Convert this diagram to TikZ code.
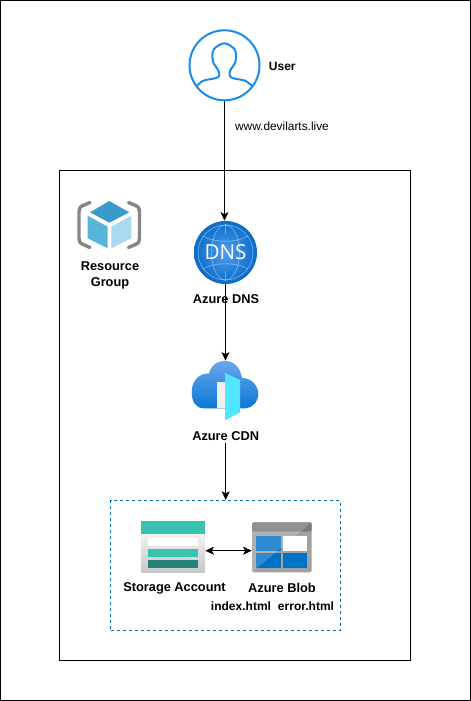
\documentclass[tikz,border=0pt]{standalone}
\usepackage{fontspec}
\setmainfont{Liberation Sans}
\newfontfamily\dnsfont{Open Sans}
\usetikzlibrary{arrows.meta,calc}
\definecolor{userblue}{HTML}{1A8CEB}
\definecolor{boxblue}{HTML}{006EAF}
\definecolor{tealA}{HTML}{37C2B1}
\definecolor{tealB}{HTML}{258277}
\definecolor{blobA}{HTML}{0072C6}
\definecolor{cubeA}{HTML}{3A9BC8}
\definecolor{cubeB}{HTML}{59B4D9}
\definecolor{cubeC}{HTML}{A9DAEF}
\definecolor{cloudtop}{HTML}{6BA6EF}
\definecolor{cloudbot}{HTML}{0A78D4}
\definecolor{doorcol}{HTML}{50E6FF}
\definecolor{dnsin}{HTML}{4F9DF0}
\definecolor{dnsout}{HTML}{0A6CC8}
\tikzset{
  x=0.75pt,y=-0.75pt,
  frame/.style={draw=black,line width=0.75pt,fill=none},
  link/.style={draw=black,line width=0.75pt,-{Stealth[length=6.5pt,width=6pt,inset=1.6pt]}},
  biglink/.style={draw=black,line width=0.75pt,{Stealth[length=6.5pt,width=6pt,inset=1.6pt]}-{Stealth[length=6.5pt,width=6pt,inset=1.6pt]}},
  lbl/.style={font=\bfseries\fontsize{9.6}{11}\selectfont,inner sep=0pt,align=center,text=black},
  smalllbl/.style={font=\bfseries\fontsize{9}{10}\selectfont,inner sep=0pt,text=black},
  urllbl/.style={font=\fontsize{8.9}{10}\selectfont,inner sep=0pt,text=black},
  globe/.style={draw=white,draw opacity=.35,line width=0.6pt},
  personline/.style={draw=userblue,line width=1.5pt,line join=round,line cap=round},
  bracket/.style={draw=gray!95,line width=2.6pt,line join=round,line cap=round}
}
\begin{document}
\begin{tikzpicture}
\useasboundingbox (0,0) rectangle (471,701);
\fill[white] (0,0) rectangle (471,701);
\node[frame,inner sep=0pt,minimum width=470*0.75pt,minimum height=699.5*0.75pt] (outer) at (235.5,350.25) {};
\node[frame,inner sep=0pt,minimum width=351*0.75pt,minimum height=490*0.75pt] (inner) at (235,415.5) {};

% user
\node[draw=userblue,line width=1.5pt,circle,inner sep=0pt,minimum size=70*0.75pt,fill=white] (user) at (224.5,65.3) {};
\draw[personline] plot[smooth,tension=0.55] coordinates {(196.7,86) (203.3,80.7) (215,78.3) (219,76) (218.5,71) (213,62) (212.3,56.7) (214,49) (224.3,43.3) (234.5,49) (236,56.7) (235.5,62) (230,71) (230,76) (233.3,78.3) (245,80.7) (252.3,86)};
\node[lbl,font=\bfseries\fontsize{9}{10}\selectfont] (userlbl) at (282.3,66) {User};
\node[urllbl] (url) at (282,126.2) {www.devilarts.live};

% resource group
\fill[cubeA] (109.3,201) -- (129.3,212.3) -- (109.3,222.7) -- (90,212.3) -- cycle;
\fill[cubeB] (87.7,215.7) -- (107.7,226.7) -- (107.7,248.3) -- (87.7,238.3) -- cycle;
\fill[cubeC] (111.3,226.7) -- (131.3,215.7) -- (131.3,238.3) -- (111.3,248.3) -- cycle;
\draw[bracket] (90,202.5) -- (83,205.5) .. controls (79.5,207) and (79,209) .. (79,212) -- (79,238) .. controls (79,241) and (79.5,243) .. (83,244.5) -- (90,247.5);
\draw[bracket] (128.5,202.5) -- (135.5,205.5) .. controls (139,207) and (139.5,209) .. (139.5,212) -- (139.5,238) .. controls (139.5,241) and (139,243) .. (135.5,244.5) -- (128.5,247.5);
\node[lbl] (rg) at (110,275) {Resource\\[1pt]Group};

% dns
\node[circle,inner sep=0pt,minimum size=63*0.75pt,inner color=dnsin,outer color=dnsout] (dns) at (225.5,252.5) {};
\begin{scope}
\clip (225.5,252.5) circle[radius=29];
\draw[globe] (225.5,252.5) circle[radius=27.5];
\draw[globe] (225.5,252.5) ellipse[x radius=14,y radius=27.5];
\draw[globe] (225.5,224) -- (225.5,234);
\draw[globe] (225.5,271) -- (225.5,281);
\draw[globe] (203,236) .. controls (214,243) and (237,243) .. (248,236);
\draw[globe] (203,269) .. controls (214,262) and (237,262) .. (248,269);
\end{scope}
\node[text=white,inner sep=0pt,font=\dnsfont\fontsize{15.5}{16}\selectfont] (dnstext) at (225.5,252.5) {DNS};
\node[lbl] (dnslbl) at (226,299.5) {Azure DNS};

% cdn
\node[inner sep=0pt,minimum width=67*0.75pt,minimum height=59.5*0.75pt] (cdn) at (225,390.7) {};
\shade[top color=cloudtop,bottom color=cloudbot]
 (204,408.3) .. controls (196,408.3) and (191.7,402) .. (191.7,392)
 .. controls (191.7,380) and (200,373) .. (209,373.5)
 .. controls (211,366) and (216,361) .. (225,361)
 .. controls (234,361) and (240,367) .. (242,378)
 .. controls (252,378) and (258.3,386) .. (258.3,394)
 .. controls (258.3,402) and (252,408.3) .. (245,408.3) -- cycle;
\fill[black!6] (216.7,382.3) rectangle (225.7,408.3);
\fill[doorcol] (225,373) -- (240,380) -- (240,412.3) -- (225,420.3) -- cycle;
\node[lbl,fill=white,inner ysep=1.5pt] (cdnlbl) at (225.7,435.7) {Azure CDN};

% storage box
\node[draw=boxblue,line width=0.75pt,dash pattern=on 2.25pt off 2.25pt,inner sep=0pt,minimum width=229.5*0.75pt,minimum height=129.5*0.75pt] (box) at (225.25,565.25) {};

% storage account
\node[inner sep=0pt,minimum width=64*0.75pt,minimum height=51.3*0.75pt] (storage) at (173,546.65) {};
\shade[top color=black!5,bottom color=black!22] (141,534) rectangle (205,572.3);
\fill[tealA] (141,521) rectangle (205,534);
\fill[white] (148.3,538.3) rectangle (197.7,546);
\fill[tealA] (148.3,549) rectangle (197.7,556.7);
\fill[tealB] (148.3,560) rectangle (197.7,567.7);
\node[lbl] (storagelbl) at (174.5,588.3) {Storage Account};

% blob
\node[inner sep=0pt,minimum width=59.7*0.75pt,minimum height=50*0.75pt] (blob) at (281.85,547.3) {};
\fill[black!37,rounded corners=1.2pt] (252,522.3) rectangle (311.7,572.3);
\fill[black!52,rounded corners=1.2pt] (252,522.3) rectangle (311.7,531.7);
\fill[blobA] (256.3,535.7) rectangle (280.7,551);
\fill[blobA] (256.3,553) rectangle (280.7,568.3);
\fill[white,fill opacity=.18] (252,522.3) -- (311.7,522.3) -- (252,572.3) -- cycle;
\fill[white] (282.7,535.7) rectangle (307.3,551);
\fill[blobA] (282.7,553) rectangle (307.3,568.3);
\node[lbl] (bloblbl) at (282,588.3) {Azure Blob};
\node[smalllbl] (index) at (241,606) {index.html};
\node[smalllbl] (error) at (306,606) {error.html};

% connectors
\draw[link] (user.south) -- (user.south |- dns.north);
\draw[link] (dns.south) -- (dns.south |- cdn.north);
\draw[link] (cdnlbl.south) -- (cdnlbl.south |- box.north);
\draw[biglink] (storage.east |- 0,550.7) -- (blob.west |- 0,550.7);
\end{tikzpicture}
\end{document}
